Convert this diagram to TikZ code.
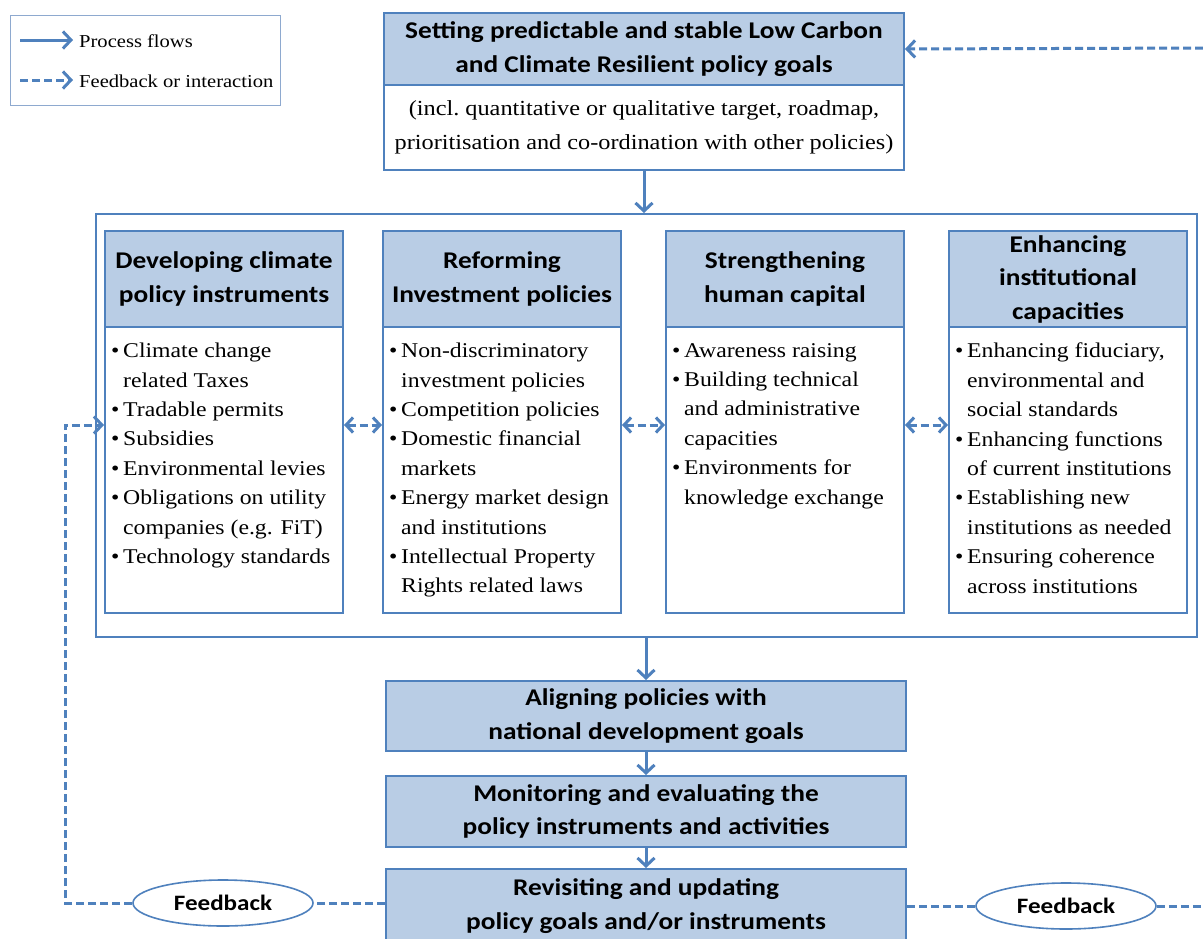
\documentclass[tikz,border=0pt]{standalone}
\usepackage{fontspec}
\setmainfont[FakeStretch=1.13]{Liberation Serif}
\newfontfamily\hfont[FakeStretch=1.14]{Carlito}
\usetikzlibrary{arrows.meta,shapes.geometric}
\definecolor{bfill}{HTML}{B9CDE5}
\definecolor{bline}{HTML}{4F81BD}
\definecolor{lgline}{HTML}{8EA9CF}
\newcommand\bul{\makebox[12pt][l]{\textbullet}}
\newcommand\ind{\hspace*{12pt}}
\tikzset{
 hdr/.style={draw=bline, line width=2pt, fill=bfill, anchor=north west, inner sep=0, align=center, font=\hfont\bfseries\fontsize{24}{33.5}\selectfont},
 plainbox/.style={draw=bline, line width=2pt, fill=white, anchor=north west, inner sep=0},
 btext/.style={anchor=north west, inner sep=0, align=left, font=\fontsize{21}{29.4}\selectfont},
 flow/.style={draw=bline, line width=3pt, -{Straight Barb[length=8pt,width=17pt,line width=3pt]}},
 fb/.style={draw=bline, line width=3pt, dash pattern=on 8pt off 4pt},
 fbarrow/.style={fb, -{Straight Barb[length=8pt,width=17pt,line width=3pt]}},
 fbboth/.style={fb, {Straight Barb[length=7pt,width=15pt,line width=3pt]}-{Straight Barb[length=7pt,width=15pt,line width=3pt]}},
 ell/.style={ellipse, draw=bline, line width=1.6pt, fill=white, minimum width=180, minimum height=46, inner sep=0, font=\hfont\bfseries\fontsize{22}{26}\selectfont},
 lgtext/.style={anchor=west, inner sep=0, font=\fontsize{18.2}{22}\selectfont},
}
\begin{document}
\begin{tikzpicture}[x=1pt,y=-1pt]
\useasboundingbox[fill=white] (0,0) rectangle (1203,938);
% legend
\node[draw=lgline, line width=1.4pt, anchor=north west, minimum width=270, minimum height=90, inner sep=0] (legend) at (10,15) {};
\node[lgtext] (lg1) at (79,41) {Process flows};
\node[lgtext] (lg2) at (79,81) {Feedback or interaction};
\coordinate (lgs1) at (20,40);
\coordinate (lgs2) at (20,80);
\draw[flow] (lgs1) -- ([xshift=-6pt]lg1.west |- lgs1);
\draw[fbarrow] (lgs2) -- ([xshift=-6pt]lg2.west |- lgs2);
% top box
\node[hdr, minimum width=520, minimum height=72] (tophdr) at (383,12) {Setting predictable and stable Low Carbon\\and Climate Resilient policy goals};
\node[plainbox, minimum width=520, minimum height=85, align=center, font=\fontsize{21.5}{34}\selectfont] (topbody) at (383,84) {(incl.\ quantitative or qualitative target, roadmap,\\prioritisation and co-ordination with other policies)};
\coordinate (tr) at (1203,48);
\draw[fbarrow] (tr) -- (tophdr.east);
% container
\node[draw=bline, line width=1.6pt, anchor=north west, minimum width=1101, minimum height=423, inner sep=0] (cont) at (95,213) {};
\draw[flow] (topbody.south) -- (topbody.south |- cont.north);
% columns
\node[hdr, minimum width=238, minimum height=96] (h1) at (104,230) {Developing climate\\policy instruments};
\node[plainbox, minimum width=238, minimum height=286] (b1) at (104,326) {};
\node[hdr, minimum width=238, minimum height=96] (h2) at (382,230) {Reforming\\Investment policies};
\node[plainbox, minimum width=238, minimum height=286] (b2) at (382,326) {};
\node[hdr, minimum width=238, minimum height=96] (h3) at (665,230) {Strengthening\\human capital};
\node[plainbox, minimum width=238, minimum height=286] (b3) at (665,326) {};
\node[hdr, minimum width=238, minimum height=96] (h4) at (948,230) {Enhancing\\institutional\\capacities};
\node[plainbox, minimum width=238, minimum height=286] (b4) at (948,326) {};
\node[btext] (t1) at (111,343) {\bul Climate change\\\ind related Taxes\\\bul Tradable permits\\\bul Subsidies\\\bul Environmental levies\\\bul Obligations on utility\\\ind companies (e.g. FiT)\\\bul Technology standards};
\node[btext] (t2) at (389,343) {\bul Non-discriminatory\\\ind investment policies\\\bul Competition policies\\\bul Domestic financial\\\ind markets\\\bul Energy market design\\\ind and institutions\\\bul Intellectual Property\\\ind Rights related laws};
\node[btext] (t3) at (672,343) {\bul Awareness raising\\\bul Building technical\\\ind and administrative\\\ind capacities\\\bul Environments for\\\ind knowledge exchange};
\node[btext] (t4) at (955,343) {\bul Enhancing fiduciary,\\\ind environmental and\\\ind social standards\\\bul Enhancing functions\\\ind of current institutions\\\bul Establishing new\\\ind institutions as needed\\\bul Ensuring coherence\\\ind across institutions};
\coordinate (ay) at (0,425);
\draw[fbboth] (b1.east |- ay) -- (b2.west |- ay);
\draw[fbboth] (b2.east |- ay) -- (b3.west |- ay);
\draw[fbboth] (b3.east |- ay) -- (b4.west |- ay);
% lower boxes
\node[hdr, minimum width=520, minimum height=70] (align) at (385,680) {Aligning policies with\\national development goals};
\node[hdr, minimum width=520, minimum height=71] (mon) at (385,775) {Monitoring and evaluating the\\policy instruments and activities};
\node[hdr, minimum width=520, minimum height=74] (rev) at (385,868) {Revisiting and updating\\policy goals and/or instruments};
\draw[flow] (cont.south -| align.north) -- (align.north);
\draw[flow] (align.south) -- (mon.north);
\draw[flow] (mon.south) -- (rev.north);
% feedback
\node[ell] (fb1) at (223,903) {Feedback};
\node[ell] (fb2) at (1066,906) {Feedback};
\coordinate (lc) at (65,425);
\coordinate (rc) at (1203,906);
\draw[fb] (rev.west |- fb1) -- (fb1.east);
\draw[fbarrow] (fb1.west) -| (lc) -- (lc -| b1.west);
\draw[fb] (rev.east |- fb2) -- (fb2.west);
\draw[fb] (fb2.east) -- (rc);
\end{tikzpicture}
\end{document}
